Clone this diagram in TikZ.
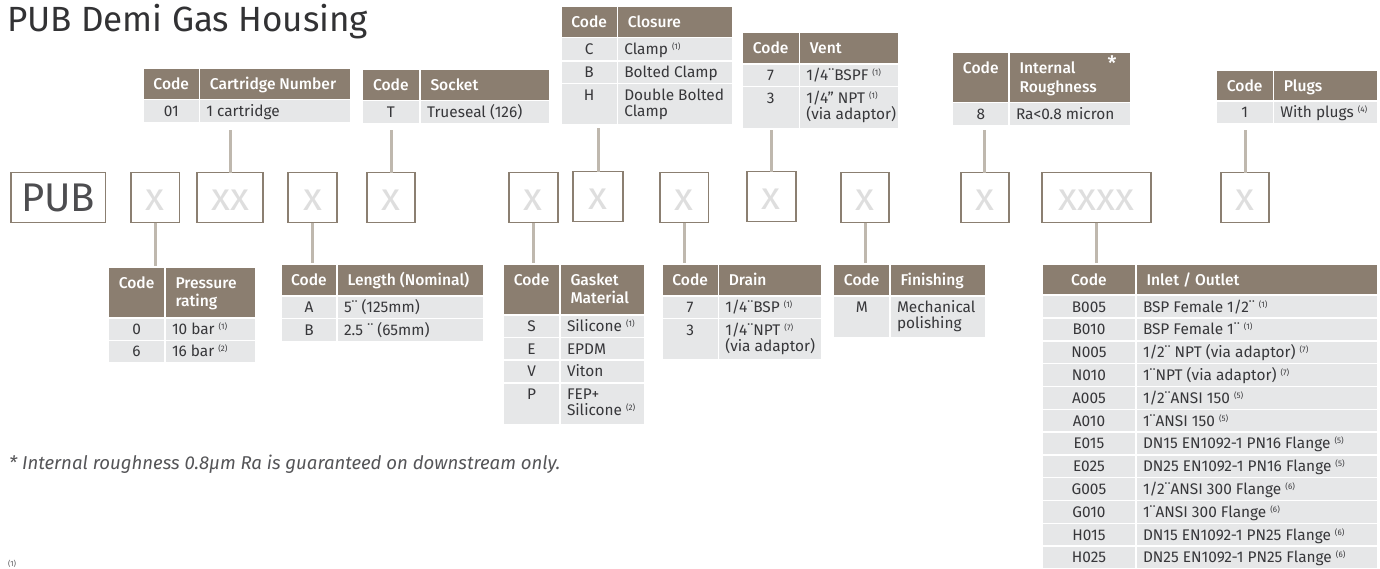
\documentclass[tikz,border=0pt]{standalone}
\usepackage{fontspec}
\setmainfont{Fira Sans}
\newfontfamily\hdfont{Fira Sans Medium}
\usetikzlibrary{calc}
\definecolor{hdr}{RGB}{139,126,112}
\definecolor{rowc}{RGB}{230,231,232}
\definecolor{conn}{RGB}{191,184,174}
\definecolor{boxc}{RGB}{139,127,113}
\definecolor{xc}{RGB}{222,222,222}
\definecolor{txtc}{RGB}{55,55,58}
\definecolor{pubc}{RGB}{77,77,80}
\definecolor{titc}{RGB}{50,50,52}
\definecolor{notec}{RGB}{85,85,88}
\newcommand\cel[6]{\node[#6, minimum width={(#4)-(#2)}, minimum height={(#5)-(#3)}, anchor=north west] (#1) at ({#2},{#3}) {};}
\newcommand\trow[7]{\cel{#1c}{#2}{#5}{#3-0.8}{#6}{#7}\cel{#1d}{#3+0.8}{#5}{#4}{#6}{#7}}
\newcommand\Ctxt[4]{\node[#1, anchor=base] at ($(#2.north)+(0,#3)$) {#4};}
\newcommand\Ltxt[5]{\node[#1, anchor=base west] at ($(#2.north west)+(#3,#4)$) {#5};}
\newcommand\fnm[1]{{\fontsize{8}{8}\selectfont\raisebox{4.9pt}{(#1)}}}
\newcommand\bx[5]{\node[cbox, minimum width={(#3)-(#2)}, minimum height={(#5)-(#4)}] (#1) at (#2,#4) {};}
\def\HB{20.5}\def\HBB{38.8}\def\RB{16}\def\RBB{32}\def\HP{9.5}\def\RP{6}
\newcommand\irow[3]{\pgfmathsetmacro\itop{296+22.8*#1}\pgfmathsetmacro\ibot{\itop+21.3}%
 \trow{in#1}{1042.7}{1136}{1377.3}{\itop}{\ibot}{rcell}%
 \Ctxt{rtx}{in#1c}{\RB}{#2}\Ltxt{rtx}{in#1d}{\RP}{\RB}{#3}}
\tikzset{
 hcell/.style={fill=hdr, inner sep=0, outer sep=0},
 rcell/.style={fill=rowc, inner sep=0, outer sep=0},
 htx/.style={font=\hdfont\fontsize{15.6}{17}\selectfont, text=white, inner sep=0},
 rtx/.style={font=\fontsize{15.4}{16}\selectfont, text=txtc, inner sep=0},
 cbox/.style={draw=boxc, line width=1.8pt, fill=white, inner sep=0, outer sep=0, anchor=north west},
 xtx/.style={font=\fontsize{39}{40}\selectfont, text=xc, inner sep=0, anchor=base},
 conn/.style={draw=conn, line width=3pt},
}
\begin{document}
\begin{tikzpicture}[x=1pt,y=-1pt]
\useasboundingbox (0,0) rectangle (1380,568);
\fill[white] (0,0) rectangle (1380,568);
% title
\node[anchor=base west, font=\fontsize{35}{40}\selectfont, text=titc, inner sep=0] (title) at (7,31.5) {PUB Demi Gas Housing};
% ---- top tables
% cartridge
\trow{crtH}{144}{199.3}{350}{68.5}{98.5}{hcell}
\trow{crt1}{144}{199.3}{350}{100}{121.5}{rcell}
\Ctxt{htx}{crtHc}{\HB}{Code}\Ltxt{htx}{crtHd}{\HP}{\HB}{Cartridge Number}
\Ctxt{rtx}{crt1c}{\RB}{01}\Ltxt{rtx}{crt1d}{\RP}{\RB}{1 cartridge}
% socket
\trow{socH}{362.5}{420}{549}{69.5}{99.5}{hcell}
\trow{soc1}{362.5}{420}{549}{101}{122.5}{rcell}
\Ctxt{htx}{socHc}{\HB}{Code}\Ltxt{htx}{socHd}{\HP}{\HB}{Socket}
\Ctxt{rtx}{soc1c}{\RB}{T}\Ltxt{rtx}{soc1d}{\RP}{\RB}{Trueseal (126)}
% closure
\trow{cloH}{561.7}{617.3}{732.3}{7.3}{36.7}{hcell}
\trow{clo1}{561.7}{617.3}{732.3}{38.3}{60}{rcell}
\trow{clo2}{561.7}{617.3}{732.3}{61.5}{82.7}{rcell}
\trow{clo3}{561.7}{617.3}{732.3}{84}{124}{rcell}
\Ctxt{htx}{cloHc}{\HB}{Code}\Ltxt{htx}{cloHd}{\HP}{\HB}{Closure}
\Ctxt{rtx}{clo1c}{\RB}{C}\Ltxt{rtx}{clo1d}{\RP}{\RB}{Clamp \fnm{1}}
\Ctxt{rtx}{clo2c}{\RB}{B}\Ltxt{rtx}{clo2d}{\RP}{\RB}{Bolted Clamp}
\Ctxt{rtx}{clo3c}{\RB}{H}\Ltxt{rtx}{clo3d}{\RP}{\RB}{Double Bolted}\Ltxt{rtx}{clo3d}{\RP}{\RBB}{Clamp}
% vent
\trow{venH}{742.7}{799.3}{898.3}{33.3}{63.3}{hcell}
\trow{ven1}{742.7}{799.3}{898.3}{64.8}{86}{rcell}
\trow{ven2}{742.7}{799.3}{898.3}{87.3}{127.7}{rcell}
\Ctxt{htx}{venHc}{\HB}{Code}\Ltxt{htx}{venHd}{\HP}{\HB}{Vent}
\Ctxt{rtx}{ven1c}{\RB}{7}\Ltxt{rtx}{ven1d}{\RP}{\RB}{1/4¨BSPF \fnm{1}}
\Ctxt{rtx}{ven2c}{\RB}{3}\Ltxt{rtx}{ven2d}{\RP}{\RB}{1/4" NPT \fnm{1}}\Ltxt{rtx}{ven2d}{\RP}{\RBB}{(via adaptor)}
% roughness
\trow{rouH}{953.3}{1009}{1130}{53.3}{101.7}{hcell}
\trow{rou1}{953.3}{1009}{1130}{103.3}{124.5}{rcell}
\Ctxt{htx}{rouHc}{\HB}{Code}\Ltxt{htx}{rouHd}{\HP}{\HB}{Internal}\Ltxt{htx}{rouHd}{\HP}{\HBB}{Roughness}
\node[htx, anchor=north, font=\hdfont\fontsize{20}{20}\selectfont] (ast) at (1112,55) {*};
\Ctxt{rtx}{rou1c}{\RB}{8}\Ltxt{rtx}{rou1d}{\RP}{\RB}{Ra<0.8 micron}
% plugs
\trow{pluH}{1216.7}{1273.3}{1377.3}{70.7}{100}{hcell}
\trow{plu1}{1216.7}{1273.3}{1377.3}{101.5}{123}{rcell}
\Ctxt{htx}{pluHc}{\HB}{Code}\Ltxt{htx}{pluHd}{\HP}{\HB}{Plugs}
\Ctxt{rtx}{plu1c}{\RB}{1}\Ltxt{rtx}{plu1d}{\RP}{\RB}{With plugs \fnm{4}}
% ---- bottom tables
% pressure
\trow{preH}{109}{165}{255}{268}{316.7}{hcell}
\trow{pre1}{109}{165}{255}{318.5}{339.5}{rcell}
\trow{pre2}{109}{165}{255}{340.8}{362}{rcell}
\Ctxt{htx}{preHc}{\HB}{Code}\Ltxt{htx}{preHd}{\HP}{\HB}{Pressure}\Ltxt{htx}{preHd}{\HP}{\HBB}{rating}
\Ctxt{rtx}{pre1c}{\RB}{0}\Ltxt{rtx}{pre1d}{\RP}{\RB}{10 bar \fnm{1}}
\Ctxt{rtx}{pre2c}{\RB}{6}\Ltxt{rtx}{pre2d}{\RP}{\RB}{16 bar \fnm{2}}
% length
\trow{lenH}{281.7}{337}{483}{265}{295}{hcell}
\trow{len1}{281.7}{337}{483}{296.7}{318}{rcell}
\trow{len2}{281.7}{337}{483}{319.3}{340.7}{rcell}
\Ctxt{htx}{lenHc}{\HB}{Code}\Ltxt{htx}{lenHd}{\HP}{\HB}{Length (Nominal)}
\Ctxt{rtx}{len1c}{\RB}{A}\Ltxt{rtx}{len1d}{\RP}{\RB}{5¨ (125mm)}
\Ctxt{rtx}{len2c}{\RB}{B}\Ltxt{rtx}{len2d}{\RP}{\RB}{2.5 ¨ (65mm)}
% gasket
\trow{gasH}{504}{560}{644}{265}{314}{hcell}
\trow{gas1}{504}{560}{644}{315.5}{336.7}{rcell}
\trow{gas2}{504}{560}{644}{338}{359.3}{rcell}
\trow{gas3}{504}{560}{644}{360.7}{382.3}{rcell}
\trow{gas4}{504}{560}{644}{383.7}{424}{rcell}
\Ctxt{htx}{gasHc}{\HB}{Code}\Ltxt{htx}{gasHd}{\HP}{\HB}{Gasket}\Ltxt{htx}{gasHd}{\HP}{\HBB}{Material}
\Ctxt{rtx}{gas1c}{\RB}{S}\Ltxt{rtx}{gas1d}{\RP}{\RB}{Silicone \fnm{1}}
\Ctxt{rtx}{gas2c}{\RB}{E}\Ltxt{rtx}{gas2d}{\RP}{\RB}{EPDM}
\Ctxt{rtx}{gas3c}{\RB}{V}\Ltxt{rtx}{gas3d}{\RP}{\RB}{Viton}
\Ctxt{rtx}{gas4c}{\RB}{P}\Ltxt{rtx}{gas4d}{\RP}{\RB}{FEP+}\Ltxt{rtx}{gas4d}{\RP}{\RBB}{Silicone \fnm{2}}
% drain
\trow{draH}{662.7}{718.3}{820.7}{265}{295}{hcell}
\trow{dra1}{662.7}{718.3}{820.7}{296.7}{317.7}{rcell}
\trow{dra2}{662.7}{718.3}{820.7}{319}{359.3}{rcell}
\Ctxt{htx}{draHc}{\HB}{Code}\Ltxt{htx}{draHd}{\HP}{\HB}{Drain}
\Ctxt{rtx}{dra1c}{\RB}{7}\Ltxt{rtx}{dra1d}{\RP}{\RB}{1/4¨BSP \fnm{1}}
\Ctxt{rtx}{dra2c}{\RB}{3}\Ltxt{rtx}{dra2d}{\RP}{\RB}{1/4¨NPT \fnm{7}}\Ltxt{rtx}{dra2d}{\RP}{\RBB}{(via adaptor)}
% finishing
\trow{finH}{834.3}{890}{985}{265}{295}{hcell}
\trow{fin1}{834.3}{890}{985}{296.7}{336.7}{rcell}
\Ctxt{htx}{finHc}{\HB}{Code}\Ltxt{htx}{finHd}{\HP}{\HB}{Finishing}
\Ctxt{rtx}{fin1c}{\RB}{M}\Ltxt{rtx}{fin1d}{\RP}{\RB}{Mechanical}\Ltxt{rtx}{fin1d}{\RP}{\RBB}{polishing}
% inlet
\trow{inH}{1042.7}{1136}{1377.3}{265}{294.3}{hcell}
\Ctxt{htx}{inHc}{\HB}{Code}\Ltxt{htx}{inHd}{\HP}{\HB}{Inlet / Outlet}
\irow{0}{B005}{BSP Female 1/2¨ \fnm{1}}
\irow{1}{B010}{BSP Female 1¨ \fnm{1}}
\irow{2}{N005}{1/2¨ NPT (via adaptor) \fnm{7}}
\irow{3}{N010}{1¨NPT (via adaptor) \fnm{7}}
\irow{4}{A005}{1/2¨ANSI 150 \fnm{5}}
\irow{5}{A010}{1¨ANSI 150 \fnm{5}}
\irow{6}{E015}{DN15 EN1092-1 PN16 Flange \fnm{5}}
\irow{7}{E025}{DN25 EN1092-1 PN16 Flange \fnm{5}}
\irow{8}{G005}{1/2¨ANSI 300 Flange \fnm{6}}
\irow{9}{G010}{1¨ANSI 300 Flange \fnm{6}}
\irow{10}{H015}{DN15 EN1092-1 PN25 Flange \fnm{6}}
\irow{11}{H025}{DN25 EN1092-1 PN25 Flange \fnm{6}}
% ---- boxes
\bx{pub}{10.7}{105.4}{172.5}{222.5}
\bx{b1}{131}{179.5}{172.5}{222.5}
\bx{b2}{197}{263}{172.5}{222.5}
\bx{b3}{288}{337}{172.5}{222.5}
\bx{b4}{367}{415}{172.5}{222.5}
\bx{b5}{509}{557.6}{172.5}{222.5}
\bx{b6}{573}{623}{171.5}{221.5}
\bx{b7}{660}{708.5}{172.5}{222.5}
\bx{b8}{747}{795.6}{171.5}{221.5}
\bx{b9}{841}{889}{172.5}{222.5}
\bx{b10}{960.6}{1008.6}{172.5}{222.5}
\bx{b11}{1041.6}{1150.7}{172.5}{222.5}
\bx{b12}{1221}{1269}{172.5}{222.5}
\node[xtx, text=pubc, font=\fontsize{40}{40}\selectfont] at ($(pub.center)+(0,13.6)$) {PUB};
\foreach \b/\t in {b1/x,b2/xx,b3/x,b4/x,b5/x,b6/x,b7/x,b8/x,b9/x,b10/x,b11/xxxx,b12/x}
  \node[xtx] at ($(\b.center)+(0,12.8)$) {\t};
% connectors (top tables to boxes)
\draw[conn] ($(b2.north |- crt1d.south)+(0,8.5)$) -- (b2.north);
\draw[conn] ($(b4.north |- soc1d.south)+(0,7.5)$) -- (b4.north);
\draw[conn] ($(b6.north |- clo3d.south)+(0,4)$) -- (b6.north);
\draw[conn] ($(b8.north |- ven2d.south)+(0,2.3)$) -- (b8.north);
\draw[conn] ($(b10.north |- rou1d.south)+(0,5.5)$) -- (b10.north);
\draw[conn] ($(b12.north |- plu1d.south)+(0,7)$) -- (b12.north);
% connectors (boxes to bottom tables)
\draw[conn] (b1.south) -- ($(b1.south |- preHc.north)+(0,-2)$);
\draw[conn] (b3.south) -- ($(b3.south |- lenHc.north)+(0,-2)$);
\draw[conn] (b5.south) -- ($(b5.south |- gasHc.north)+(0,-2)$);
\draw[conn] (b7.south) -- ($(b7.south |- draHc.north)+(0,-2)$);
\draw[conn] (b9.south) -- ($(b9.south |- finHc.north)+(0,-2)$);
\draw[conn] (b11.south) -- ($(b11.south |- inHc.north)+(0,-2)$);
% notes
\node[anchor=base west, font=\itshape\fontsize{18.6}{20}\selectfont, text=notec, inner sep=0] (note) at (9,469) {* Internal roughness 0.8µm Ra is guaranteed on downstream only.};
\node[anchor=north west, font=\fontsize{7.5}{8}\selectfont, text=notec, inner sep=0] (fnote) at (8,559.5) {(1)};
\end{tikzpicture}
\end{document}
